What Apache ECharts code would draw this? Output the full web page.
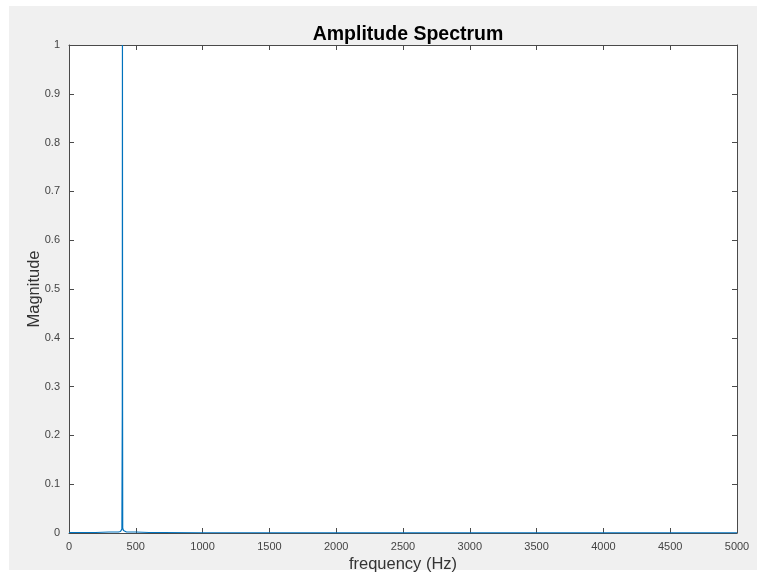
<!DOCTYPE html>
<html>
<head>
<meta charset="utf-8">
<script src="https://cdn.jsdelivr.net/npm/echarts@6/dist/echarts.min.js"></script>
<style>
html,body{margin:0;padding:0;background:#fff;}
#bg{position:absolute;left:9px;top:6px;width:748px;height:564px;background:#f0f0f0;}
#chart{position:absolute;left:0;top:0;width:759px;height:573px;}
</style>
</head>
<body>
<div id="bg"></div>
<div id="chart"></div>
<script>
// frequency (Hz) and magnitude samples
const frequency = [0, 100, 200, 300, 370, 385, 392, 396, 398, 399, 400, 401, 402, 404, 408, 415, 430, 500, 600, 700, 1000, 2000, 3000, 4000, 5000];
const magnitude = [0.001, 0.001, 0.001, 0.002, 0.002, 0.003, 0.005, 0.008, 0.01, 0.25, 1.0, 0.25, 0.01, 0.008, 0.005, 0.003, 0.002, 0.002, 0.001, 0.001, 0.0005, 0.0003, 0.0003, 0.0003, 0.0003];
const xTicks = [0, 500, 1000, 1500, 2000, 2500, 3000, 3500, 4000, 4500, 5000];
const yTicks = [0, 0.1, 0.2, 0.3, 0.4, 0.5, 0.6, 0.7, 0.8, 0.9, 1];

const font = 'Liberation Sans, Arial, Helvetica, sans-serif';
const axisColor = '#4a4a4a';
const labelColor = '#444';

const chart = echarts.init(document.getElementById('chart'), null, {renderer: 'canvas'});
const xCommon = {
  type: 'value', min: xTicks[0], max: xTicks[xTicks.length - 1], interval: xTicks[1] - xTicks[0],
  axisLine: {show: true, onZero: false, lineStyle: {color: axisColor, width: 1}},
  axisTick: {show: true, inside: true, length: 5, lineStyle: {color: axisColor}},
  splitLine: {show: false}
};
const yCommon = {
  type: 'value', min: yTicks[0], max: yTicks[yTicks.length - 1], interval: 0.1,
  axisLine: {show: true, onZero: false, lineStyle: {color: axisColor, width: 1}},
  axisTick: {show: true, inside: true, length: 5, lineStyle: {color: axisColor}},
  splitLine: {show: false}
};
chart.setOption({
  animation: false,
  backgroundColor: 'transparent',
  title: {
    text: 'Amplitude Spectrum', left: 403, top: 20, textAlign: 'center',
    textStyle: {fontFamily: font, fontSize: 19.5, fontWeight: 'bold', color: '#000'}
  },
  grid: {left: 69, right: 22, top: 45, bottom: 40, show: true, backgroundColor: '#fff', borderWidth: 0,
    containLabel: false, outerBoundsMode: 'none'},
  xAxis: [
    Object.assign({}, xCommon, {
      position: 'bottom',
      name: 'frequency (Hz)', nameLocation: 'middle', nameGap: 23, nameMoveOverlap: false,
      nameTextStyle: {fontFamily: font, fontSize: 16.5, color: '#333'},
      axisLabel: {show: true, margin: 8, fontFamily: font, fontSize: 11, color: labelColor,
        formatter: v => String(v)}
    }),
    Object.assign({}, xCommon, {position: 'top', axisLabel: {show: false}})
  ],
  yAxis: [
    Object.assign({}, yCommon, {
      position: 'left',
      name: 'Magnitude', nameLocation: 'middle', nameGap: 26, nameMoveOverlap: false,
      nameTextStyle: {fontFamily: font, fontSize: 16.5, color: '#333'},
      axisLabel: {show: true, margin: 9, fontFamily: font, fontSize: 11, color: labelColor,
        formatter: v => String(Math.round(v * 10) / 10)}
    }),
    Object.assign({}, yCommon, {position: 'right', axisLabel: {show: false}})
  ],
  series: [{
    type: 'line',
    data: frequency.map((f, i) => [f, magnitude[i]]),
    showSymbol: false,
    lineStyle: {color: '#0072BD', width: 1.2},
    clip: true
  }]
});
</script>
</body>
</html>
